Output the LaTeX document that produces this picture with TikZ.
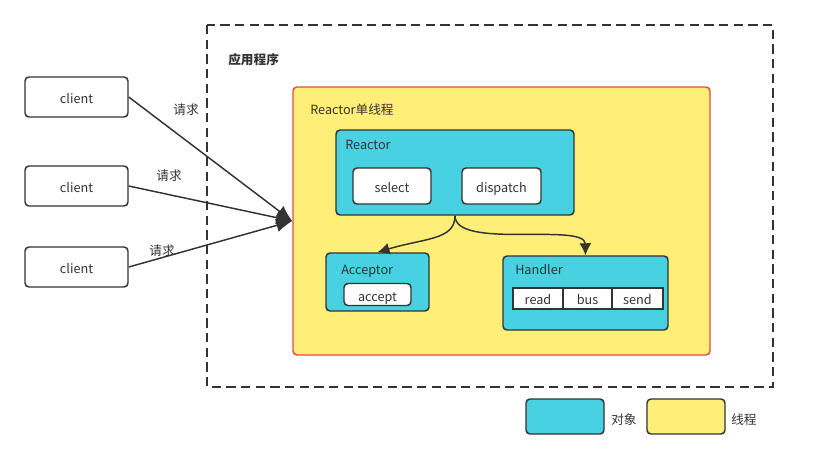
\documentclass[tikz,border=0pt]{standalone}
\usepackage{fontspec}
\setmainfont{Noto Sans CJK SC}
\usetikzlibrary{arrows.meta}

\definecolor{objcyan}{HTML}{48D1E0}
\definecolor{thryellow}{HTML}{FFEF78}
\definecolor{thrred}{HTML}{E34A4A}
\definecolor{ink}{HTML}{333333}

\tikzset{
  box/.style={draw=ink, line width=1.1pt, rounded corners=3pt, inner sep=0pt, text height=10pt, text depth=0pt},
  clientbox/.style={box, fill=white, minimum width=77.25pt, minimum height=30pt},
  objbox/.style={box, fill=objcyan},
  funcbox/.style={box, fill=white},
  cell/.style={draw=ink, line width=1.1pt, fill=white, inner sep=0pt, minimum height=15.75pt, text height=9pt, text depth=0pt},
  req/.style={draw=ink, line width=1.1pt, -{Latex[length=12pt,width=10pt]}},
  call/.style={draw=ink, line width=1.1pt, -{Latex[length=9pt,width=9pt]}},
  lbl/.style={anchor=west, inner sep=0pt, text=ink, text height=9.5pt, text depth=0pt},
  reqlbl/.style={inner sep=0pt, text height=10pt, text depth=0pt}
}

\begin{document}
\begin{tikzpicture}[x=0.75pt,y=-0.75pt, font=\fontsize{9.5}{11}\selectfont, text=ink]

	\useasboundingbox[fill=white] (0,0) rectangle (828,462);

	% application
	\draw[ink, line width=1.3pt, dash pattern=on 7pt off 4pt] (207,25) rectangle (773,387);
	\node[lbl] (app) at (228,58) {\bfseries 应用程序};

	% thread
	\node[draw=thrred, line width=1.1pt, rounded corners=3pt, fill=thryellow,
	      minimum width=312.75pt, minimum height=201pt] (thread) at (501.5,221) {};
	\node[lbl] (threadlbl) at (310,108) {Reactor单线程};

	% reactor
	\node[objbox, minimum width=178.5pt, minimum height=63.75pt] (reactor) at (455,172.5) {};
	\node[lbl] (reactorlbl) at (345,143) {Reactor};
	\node[funcbox, minimum width=58.5pt, minimum height=27pt] (select) at (392,186) {select};
	\node[funcbox, minimum width=59.25pt, minimum height=27pt] (dispatch) at (501.5,186) {dispatch};

	% acceptor
	\node[objbox, minimum width=77.25pt, minimum height=43.5pt] (acceptor) at (377.5,282) {};
	\node[lbl] (acceptorlbl) at (341,268) {Acceptor};
	\node[funcbox, minimum width=50.25pt, minimum height=16.5pt] (accept) at (377.5,294.5) {accept};

	% handler
	\node[objbox, minimum width=123.75pt, minimum height=55.5pt] (handler) at (585.5,293) {};
	\node[lbl] (handlerlbl) at (515,268) {Handler};
	\node[cell, minimum width=37.5pt] (read) at (538,298.5) {read};
	\node[cell, minimum width=36.75pt] (bus) at (587.5,298.5) {bus};
	\node[cell, minimum width=38.25pt] (send) at (637.5,298.5) {send};

	\draw[call] (reactor.south) .. controls (455,240) and (425,238) .. (acceptor.north);
	\draw[call] (reactor.south) .. controls (455,250) and (585,222) .. (handler.north);

	% clients
	\node[clientbox] (client1) at (76.5,97) {client};
	\node[clientbox] (client2) at (76.5,186) {client};
	\node[clientbox] (client3) at (76.5,267) {client};

	\draw[req] (client1.east) -- (thread.west);
	\draw[req] (client2.east) -- (thread.west);
	\draw[req] (client3.east) -- (thread.west);
	\node[reqlbl] (req1) at (186,108) {请求};
	\node[reqlbl] (req2) at (169,174) {请求};
	\node[reqlbl] (req3) at (162,249) {请求};

	% legend
	\node[objbox, minimum width=58.5pt, minimum height=26.25pt] (legobj) at (565,416.5) {};
	\node[lbl] (legobjlbl) at (611,418) {对象};
	\node[box, fill=thryellow, minimum width=58.5pt, minimum height=26.25pt] (legthr) at (686,416.5) {};
	\node[lbl] (legthrlbl) at (731,418) {线程};

\end{tikzpicture}
\end{document}
